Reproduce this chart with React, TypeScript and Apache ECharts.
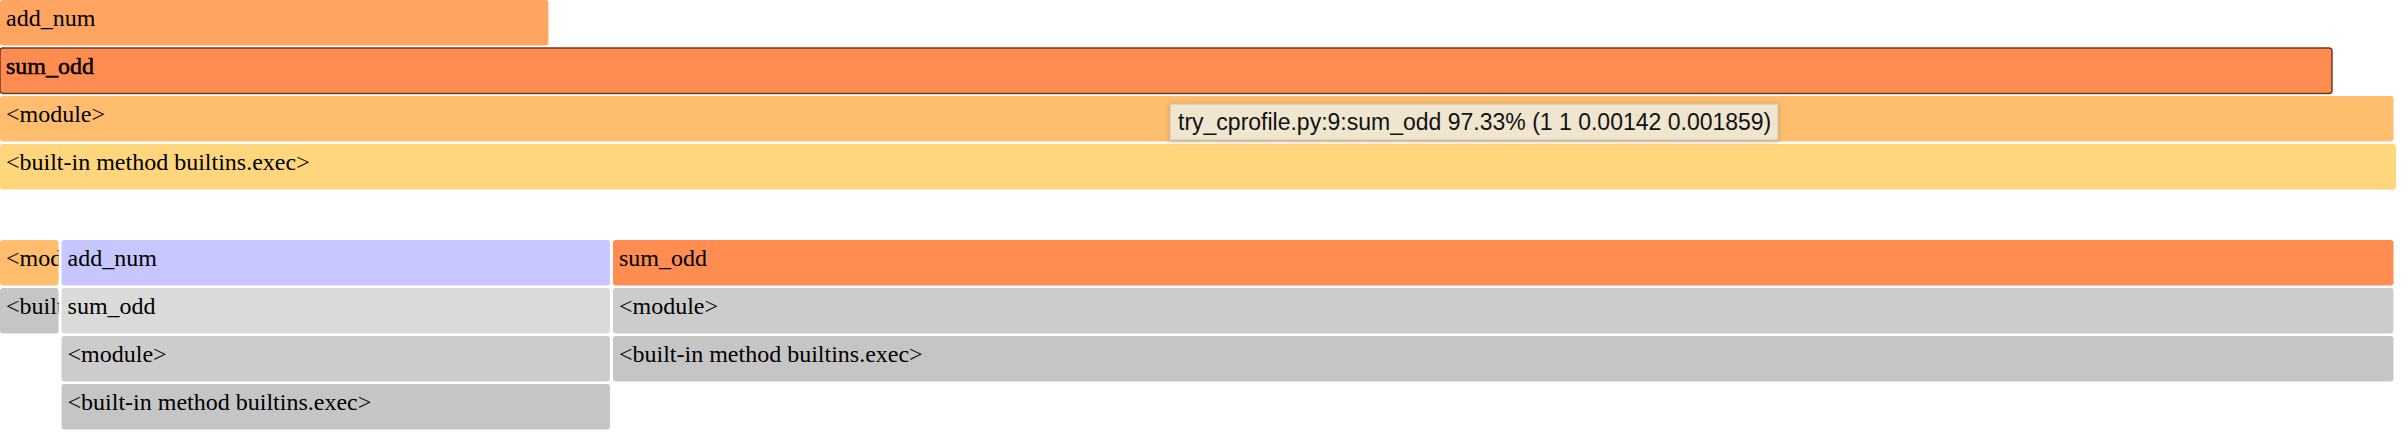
import React, { useEffect, useRef } from "react";
import * as echarts from "echarts";

// ---- data ----
const functions = ["<built-in method builtins.exec>", "<module>", "sum_odd", "add_num"];
const fileNames = ["~", "try_cprofile.py", "try_cprofile.py", "try_cprofile.py"];
const lineNumbers = [0, 1, 9, 4];
const nCalls = [1, 1, 1, 1];
const primCalls = [1, 1, 1, 1];
const cumTime = [0.00191, 0.001908, 0.001859, 0.000439];
const selfTime = [0.000002, 0.000049, 0.00142, 0.000439];
const callerIndex = [-1, 0, 1, 2]; // caller of each function
const flameColors = ["#FFD67B", "#FFBD6D", "#FF8C50", "#FFA461"];
const leafColors = ["#C5C5C5", "#FFBD6D", "#FF8C50", "#C7C6FE"];
const callerColors = ["#C5C5C5", "#CCCCCC", "#DADADA", "#DADADA"];
const hoveredFunction = 2;

const total = cumTime[0];

// top: flame graph (stack along the hot path)
const topNodes: any[] = functions.map((_, i) => [0, cumTime[i], i, i, flameColors[i], i === hoveredFunction ? 1 : 0]);

// bottom: inverted (self time, then callers)
const order = [1, 2, 3, 0].filter((i) => selfTime[i] > 0.00001).sort((a, b) => (functions[a] < functions[b] ? -1 : 1));
const bottomNodes: any[] = [];
{
  let start = 0;
  order.forEach((f) => {
    const end = start + selfTime[f];
    let depth = 0;
    let cur = f;
    while (cur >= 0) {
      bottomNodes.push([start, end, depth, cur, depth === 0 ? leafColors[cur] : callerColors[cur], 0]);
      cur = callerIndex[cur];
      depth++;
    }
    start = end;
  });
}

const ROW_H = 45.5;
const GAP = 3;

function makeRender(inverse: boolean) {
  return (params: any, api: any) => {
    const x0 = api.value(0);
    const x1 = api.value(1);
    const d = api.value(2);
    const idx = api.value(3);
    const dataArr = inverse ? bottomNodes : topNodes;
    const node = dataArr[params.dataIndex];
    const color = node[4];
    const hovered = node[5] === 1;
    const pA = api.coord([x0, d]);
    const pB = api.coord([x1, d + 1]);
    const left = Math.min(pA[0], pB[0]);
    const top = Math.min(pA[1], pB[1]);
    const width = Math.abs(pB[0] - pA[0]) - GAP;
    if (width <= 0) return null;
    return {
      type: "group",
      children: [
        {
          type: "rect",
          shape: { x: left, y: top, width, height: ROW_H, r: 3 },
          style: hovered
            ? { fill: color, stroke: "#6E3A1C", lineWidth: 1.5 }
            : { fill: color },
        },
        {
          type: "group",
          clipPath: { type: "rect", shape: { x: left, y: top, width, height: ROW_H } },
          children: [
            {
              type: "text",
              x: left + 6,
              y: top + 17.5,
              style: {
                text: functions[idx],
                fill: "#000",
                fontFamily: "Liberation Serif",
                fontSize: 24,
                verticalAlign: "middle",
                align: "left",
                width: width + 4,
                overflow: "truncate",
                ellipsis: "",
                stroke: hovered ? "#000" : null,
                lineWidth: hovered ? 0.5 : 0,
              },
            },
          ],
        },
      ],
    };
  };
}

const tipText = `${fileNames[hoveredFunction]}:${lineNumbers[hoveredFunction]}:${functions[hoveredFunction]} ${(
  (cumTime[hoveredFunction] / total) *
  100
).toFixed(2)}% (${nCalls[hoveredFunction]} ${primCalls[hoveredFunction]} ${selfTime[hoveredFunction]} ${cumTime[hoveredFunction]})`;

export default function App() {
  const ref = useRef<HTMLDivElement>(null);
  useEffect(() => {
    if (!ref.current) return;
    const chart = echarts.init(ref.current, null, { renderer: "svg" });
    chart.setOption({
      animation: false,
      grid: [
        { left: 0, top: 0, width: 2399, height: 192 },
        { left: 0, top: 240, width: 2399, height: 192 },
      ],
      xAxis: [
        { type: "value", gridIndex: 0, min: 0, max: total, show: false },
        { type: "value", gridIndex: 1, min: 0, max: total, show: false },
      ],
      yAxis: [
        { type: "value", gridIndex: 0, min: 0, max: 4, show: false },
        { type: "value", gridIndex: 1, min: 0, max: 4, show: false, inverse: true },
      ],
      series: [
        {
          type: "custom",
          xAxisIndex: 0,
          yAxisIndex: 0,
          renderItem: makeRender(false),
          data: topNodes,
          silent: true,
          clip: false,
          z: 2,
        },
        {
          type: "custom",
          xAxisIndex: 1,
          yAxisIndex: 1,
          renderItem: makeRender(true),
          data: bottomNodes,
          silent: true,
          clip: false,
          z: 2,
        },
      ],
      graphic: [
        {
          type: "rect",
          x: 1170,
          y: 104,
          z: 100,
          zlevel: 1,
          shape: { x: 0, y: 0, width: 608, height: 36 },
          style: {
            fill: "#F0E5CF",
            stroke: "#C9C2B4",
            lineWidth: 1,
            shadowBlur: 4,
            shadowColor: "rgba(0,0,0,0.25)",
            shadowOffsetY: 1,
          },
        },
        {
          type: "text",
          x: 1178,
          y: 122,
          z: 101,
          zlevel: 1,
          style: {
            text: tipText,
            fill: "#111",
            fontFamily: "Liberation Sans",
            fontSize: 23,
            verticalAlign: "middle",
          },
        },
      ],
    });
    return () => chart.dispose();
  }, []);
  return <div ref={ref} style={{ position: "absolute", left: 0, top: 0, width: 2408, height: 438 }} />;
}
